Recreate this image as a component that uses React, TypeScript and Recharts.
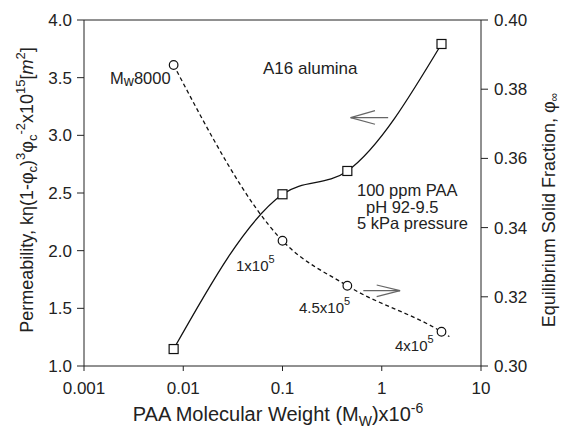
import React from "react";
import {
  ComposedChart,
  Line,
  XAxis,
  YAxis,
  ReferenceLine,
  Customized,
} from "recharts";

// PAA molecular weight (x10^-6)
const mwSolid = [0.008, 0.1, 0.45, 4];
const permeability = [1.147, 2.489, 2.691, 3.792];

const mwDashed = [0.008, 0.1, 0.45, 4, 4.8];
const solidFraction = [0.387, 0.3362, 0.3232, 0.3099, 0.3085];
const dashedMarker = [true, true, true, true, false];

const xTicks = [0.001, 0.01, 0.1, 1, 10];
const leftTicks = [1.0, 1.5, 2.0, 2.5, 3.0, 3.5, 4.0];
const rightTicks = [0.3, 0.32, 0.34, 0.36, 0.38, 0.4];

// arrow annotations, in (mw, permeability) units
const arrowLeft = {
  tip: { x: 0.486, y: 3.153 },
  tail: { x: 1.16, y: 3.153 },
  headA: { x: 0.855, y: 3.214 },
  headB: { x: 0.855, y: 3.096 },
};
const arrowRight = {
  tip: { x: 1.53, y: 1.653 },
  tail: { x: 0.652, y: 1.653 },
  headA: { x: 0.889, y: 1.702 },
  headB: { x: 0.889, y: 1.601 },
};

const permData = mwSolid.map((x, i) => ({ x, perm: permeability[i] }));
const fracData = mwDashed.map((x, i) => ({
  x,
  frac: solidFraction[i],
  marker: dashedMarker[i],
}));

const FONT = '"Liberation Sans", Arial, Helvetica, sans-serif';
const INK = "#222";

const SquareDot = (props: any) => {
  const { cx, cy, index } = props;
  return (
    <rect
      key={`sq-${index}`}
      x={cx - 4.5}
      y={cy - 4.5}
      width={9}
      height={9}
      fill="#fff"
      stroke="#111"
      strokeWidth={1.2}
    />
  );
};

const CircleDot = (props: any) => {
  const { cx, cy, index, payload } = props;
  if (!payload || !payload.marker) return <g key={`c-${index}`} />;
  return (
    <circle
      key={`c-${index}`}
      cx={cx}
      cy={cy}
      r={4.3}
      fill="#fff"
      stroke="#111"
      strokeWidth={1.2}
    />
  );
};

const Annotations = () => (
  <g fontFamily={FONT} fill={INK}>
    <text x={263} y={74} fontSize={17}>
      A16 alumina
    </text>
    <text x={110} y={84} fontSize={16.5}>
      M
      <tspan fontSize={14} dy={2}>
        w
      </tspan>
      <tspan dy={-2}>8000</tspan>
    </text>
    <text x={357} y={196} fontSize={16.5}>
      100 ppm PAA
    </text>
    <text x={366} y={212.5} fontSize={16.5}>
      pH 92-9.5
    </text>
    <text x={357} y={229} fontSize={16.5}>
      5 kPa pressure
    </text>
    <text x={236} y={270.5} fontSize={15}>
      1x10
      <tspan fontSize={11} dy={-8}>
        5
      </tspan>
    </text>
    <text x={299} y={313} fontSize={15}>
      4.5x10
      <tspan fontSize={11} dy={-8}>
        5
      </tspan>
    </text>
    <text x={395} y={351} fontSize={15}>
      4x10
      <tspan fontSize={11} dy={-8}>
        5
      </tspan>
    </text>

    {/* x axis title */}
    <text x={278} y={421} fontSize={20} textAnchor="middle">
      PAA Molecular Weight (M
      <tspan fontSize={14} dy={5}>
        W
      </tspan>
      <tspan dy={-5}>)x10</tspan>
      <tspan fontSize={14} dy={-8}>
        -6
      </tspan>
    </text>

    {/* left axis title */}
    <text
      x={33}
      y={190}
      fontSize={18}
      textAnchor="middle"
      transform="rotate(-90, 33, 190)"
    >
      Permeability, kη(1-φ
      <tspan fontSize={13} dy={4}>
        c
      </tspan>
      <tspan dy={-4}>)</tspan>
      <tspan fontSize={13} dy={-8}>
        3
      </tspan>
      <tspan dy={8}>φ</tspan>
      <tspan fontSize={13} dy={4}>
        c
      </tspan>
      <tspan fontSize={13} dy={-12}>
        -2
      </tspan>
      <tspan dy={8}>x10</tspan>
      <tspan fontSize={13} dy={-8}>
        15
      </tspan>
      <tspan dy={8}>[</tspan>
      <tspan fontStyle="italic">m</tspan>
      <tspan fontSize={13} dy={-8}>
        2
      </tspan>
      <tspan dy={8}>]</tspan>
    </text>

    {/* right axis title */}
    <text
      x={555}
      y={210}
      fontSize={18}
      textAnchor="middle"
      transform="rotate(-90, 555, 210)"
    >
      Equilibrium Solid Fraction, φ
      <tspan fontSize={12} dy={3}>
        ∞
      </tspan>
    </text>
  </g>
);

const arrowSegments = (a: typeof arrowLeft) => [
  [a.tail, a.tip],
  [a.headA, a.tip],
  [a.headB, a.tip],
];

export default function App() {
  return (
    <div
      style={{
        position: "absolute",
        left: 0,
        top: 0,
        width: 562,
        height: 428,
        background: "#fff",
      }}
    >
      <ComposedChart
        width={562}
        height={428}
        margin={{ top: 20, right: 0, bottom: 0, left: 0 }}
        style={{ fontFamily: FONT }}
      >
        <XAxis
          dataKey="x"
          type="number"
          scale="log"
          domain={[0.001, 10]}
          ticks={xTicks}
          allowDataOverflow
          height={62}
          tickSize={5}
          tickMargin={11}
          stroke={INK}
          tick={{ fontSize: 17, fill: INK }}
          tickFormatter={(v: number) => String(v)}
        />
        <YAxis
          yAxisId="left"
          orientation="left"
          domain={[1, 4]}
          ticks={leftTicks}
          width={84}
          tickSize={7}
          tickMargin={5}
          stroke={INK}
          tick={{ fontSize: 17, fill: INK }}
          tickFormatter={(v: number) => v.toFixed(1)}
        />
        <YAxis
          yAxisId="right"
          orientation="right"
          domain={[0.3, 0.4]}
          ticks={rightTicks}
          width={81}
          tickSize={7}
          tickMargin={6}
          stroke={INK}
          tick={{ fontSize: 17, fill: INK }}
          tickFormatter={(v: number) => v.toFixed(2)}
        />
        <ReferenceLine yAxisId="left" y={4} stroke={INK} />
        {[...arrowSegments(arrowLeft), ...arrowSegments(arrowRight)].map(
          (seg, i) => (
            <ReferenceLine
              key={`arrow-${i}`}
              yAxisId="left"
              segment={seg}
              stroke="#666"
              strokeWidth={1.2}
            />
          )
        )}
        <Line
          yAxisId="right"
          data={fracData}
          dataKey="frac"
          type="monotone"
          stroke="#111"
          strokeWidth={1.3}
          strokeDasharray="4 3"
          dot={CircleDot}
          activeDot={false}
          isAnimationActive={false}
        />
        <Line
          yAxisId="left"
          data={permData}
          dataKey="perm"
          type="monotone"
          stroke="#111"
          strokeWidth={1.3}
          dot={SquareDot}
          activeDot={false}
          isAnimationActive={false}
        />
        <Customized component={Annotations} />
      </ComposedChart>
    </div>
  );
}
